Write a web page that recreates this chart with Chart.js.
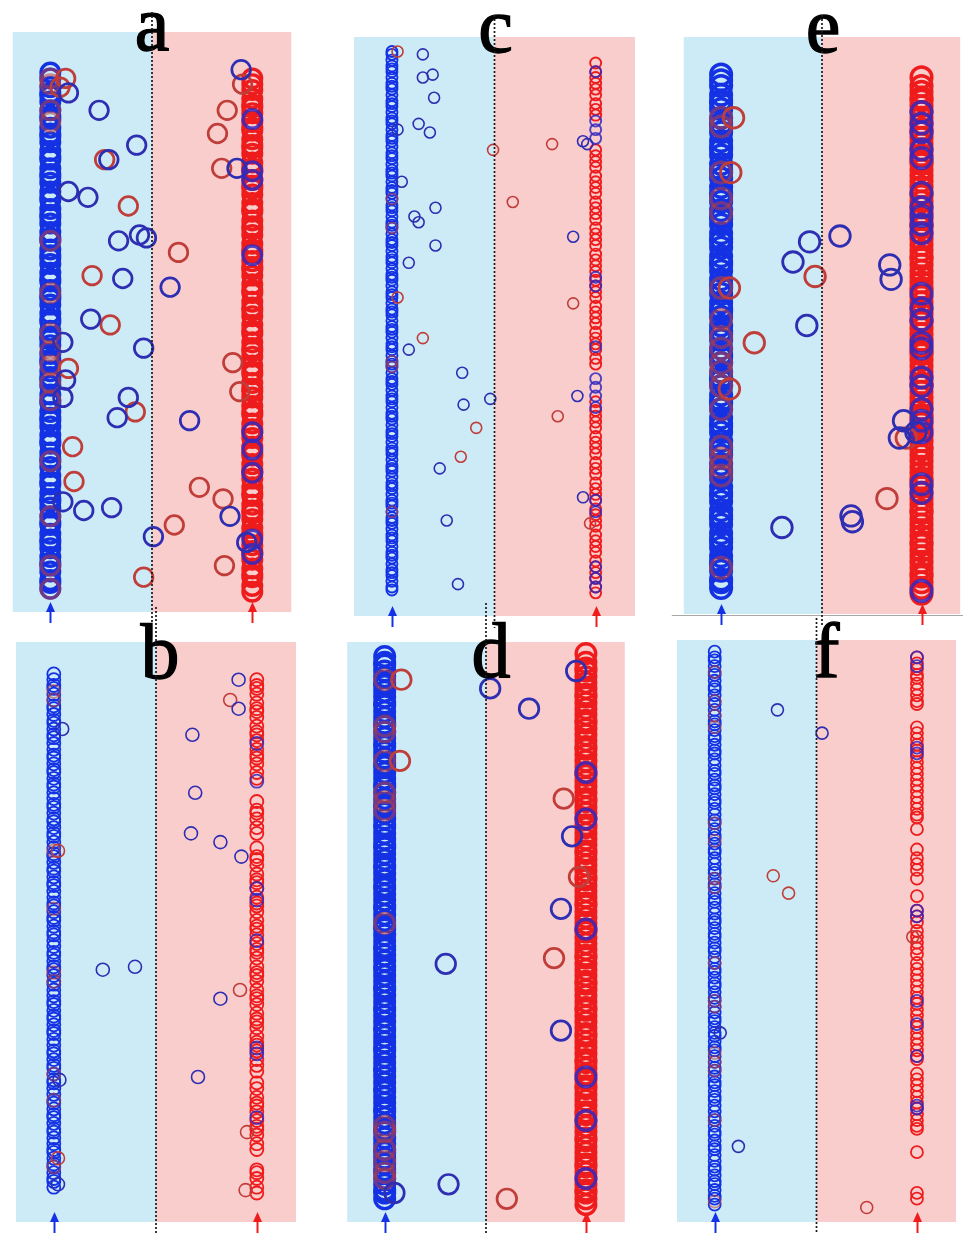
<!DOCTYPE html>
<html>
<head>
<meta charset="utf-8">
<script src="https://cdn.jsdelivr.net/npm/chart.js@4.4.1/dist/chart.umd.min.js"></script>
<style>
  body { margin: 0; background: #fff; width: 963px; height: 1233px; overflow: hidden; position: relative; }
  canvas { position: absolute; }
</style>
</head>
<body>
<script>
// x: 0..2 (dashed divider at 1), y: 0..200 (bottom..top of the coloured box)
const colX = [0.27, 1.72];

// panel a
const aBlueCol = [8,10,11,14,16,17,19,22,24,25,27,30,31,33,36,38,39,41,44,45,47,50,52,53,55,58,59,61,64,66,67,69,72,73,75,78,80,81,83,86,87,89,92,94,95,97,100,101,103,106,108,109,111,114,115,117,120,122,123,125,128,129,131,134,136,137,139,142,143,145,148,150,151,153,156,157,159,162,164,165,167,170,171,173,176,178,179,181,184,186];
const aRedInBlue = [8,16,33,52,73,79,85,90,96,110,128,169,173,182,184];
const aRedCol = [7,9,12,13,15,18,20,21,23,26,27,29,32,34,35,37,40,41,43,46,48,49,51,54,55,57,60,62,63,65,68,69,71,74,76,77,79,82,83,85,88,90,91,93,96,97,99,102,104,105,107,110,111,113,116,118,119,121,124,125,127,130,132,133,135,138,139,141,144,146,147,149,152,153,155,158,160,161,163,166,167,169,172,174,175,177,180,182,184];
const aBlueInRed = [20,25,48,56,62,123,149,152,170];
const aBlueOut = [[0.40,179],[0.62,173],[0.89,161],[0.69,156],[0.40,145],[0.54,143],[0.76,128],[0.91,130],[0.96,129],[1.13,112],[0.79,115],[1.61,153],[1.64,187],[0.56,101],[0.94,91],[0.38,80],[0.83,74],[0.75,67],[1.27,66],[0.51,35],[0.71,36],[1.56,33],[1.01,26],[1.68,24],[0.36,93],[0.36,74],[0.36,38]];
const aRedOut = [[0.38,184],[0.34,181],[0.66,156],[0.83,140],[1.19,124],[0.57,116],[1.54,173],[1.47,165],[1.50,153],[0.70,99],[0.40,84],[0.88,69],[0.43,57],[0.44,45],[1.58,86],[1.63,76],[1.34,43],[1.51,39],[1.16,30],[1.52,16],[0.94,12],[1.65,182]];

// panel b
const bBlueCol = [12,14,15,17,19,20,22,24,25,27,29,31,32,34,36,37,39,41,42,44,46,48,49,51,53,54,56,58,59,61,63,65,66,68,70,71,73,75,76,78,80,82,83,85,87,88,90,92,93,95,97,99,100,102,104,105,107,109,110,112,114,116,117,119,121,122,124,126,127,129,131,133,134,136,138,139,141,143,144,146,148,150,151,153,155,156,158,160,161,163,165,167,168,170,172,173,175,177,178,180,182,184,185,187,189];
const bRedInBlue = [19,42,51,83,86,108,128,180,183];
const bRedCol = [10,12,15,17,18,25,27,30,32,33,35,38,40,41,43,46,48,52,54,56,59,61,62,64,67,69,70,72,75,77,78,80,83,85,86,88,91,93,94,96,99,101,102,104,107,109,110,112,115,117,118,120,123,125,126,129,134,136,139,141,142,145,153,155,158,160,161,163,166,168,169,171,174,176,177,179,182,184,185,187];
const bBlueInRed = [36,58,60,97,111,115,152,165];
const bBlueOut = [[0.62,87],[0.85,88],[1.26,168],[1.28,148],[1.25,134],[1.46,131],[1.61,126],[1.59,187],[1.59,177],[1.46,77],[1.30,50],[0.33,170],[0.31,49],[0.30,13]];
const bRedOut = [[1.53,180],[1.60,80],[1.65,31],[1.64,11],[0.30,128],[0.30,22]];

// panel c
const cBlueCol = [9,10,12,14,15,16,18,20,21,22,24,26,27,28,30,32,33,34,36,38,39,40,42,44,45,46,48,50,51,52,54,56,57,58,60,62,63,64,66,68,69,70,72,74,75,76,78,80,81,82,84,86,87,88,90,92,93,94,96,98,99,100,102,104,105,106,108,110,111,112,114,116,117,118,120,122,123,124,126,128,129,130,132,134,135,136,138,140,141,142,144,146,147,148,150,152,153,154,156,158,159,160,162,164,165,166,168,170,171,172,174,176,177,178,180,182,183,184,186,188,189,190,192,194,195];
const cRedInBlue = [36,86,88,134,144];
const cRedCol = [8,10,13,15,17,19,22,24,26,28,31,33,35,37,40,42,44,46,49,51,53,56,58,60,62,65,67,69,71,74,87,89,92,94,96,98,101,103,105,107,110,112,114,116,119,121,123,125,128,130,132,134,137,139,141,143,146,148,150,152,155,157,159,161,173,175,177,180,182,184,186,188,191];
const cBlueInRed = [10,13,17,36,40,72,76,79,82,93,114,117,165,168,171,188];
const cBlueOut = [[0.49,194],[0.49,186],[0.56,187],[0.57,179],[0.46,170],[0.54,167],[0.31,168],[0.34,150],[0.58,141],[0.43,138],[0.46,136],[0.58,128],[0.39,122],[1.63,164],[1.66,163],[1.56,131],[0.39,92],[0.77,84],[0.97,75],[0.78,73],[0.61,51],[0.66,33],[0.74,11],[1.59,76],[1.63,41]];
const cRedOut = [[0.99,161],[1.41,163],[1.13,143],[1.56,108],[0.31,110],[0.49,96],[0.87,65],[0.76,55],[1.45,69],[1.68,32],[0.31,195]];

// panel d
const dBlueCol = [8,10,11,13,15,17,18,20,22,24,25,27,29,31,32,34,36,38,39,41,43,45,46,48,50,52,53,55,57,59,60,62,64,66,67,69,71,73,74,76,78,80,81,83,85,87,88,90,92,94,95,97,99,101,102,104,106,108,109,111,113,115,116,118,120,122,123,125,127,129,130,132,134,136,137,139,141,143,144,146,148,150,151,153,155,157,158,160,162,164,165,167,169,171,172,174,176,178,179,181,183,185,186,188,190,192,193,195];
const dRedInBlue = [15,17,21,25,31,33,103,142,145,148,159,169,171,187];
const dRedCol = [6,8,10,11,13,15,17,19,20,22,24,26,28,29,31,33,35,37,38,40,42,44,46,47,49,51,53,55,56,58,60,62,64,65,67,69,71,73,74,76,78,80,82,83,85,87,89,91,92,94,96,98,100,101,103,105,107,109,110,112,114,116,118,119,121,123,125,127,128,130,132,134,136,137,139,141,143,145,146,148,150,152,154,155,157,159,161,163,164,166,168,170,172,173,175,177,179,181,182,184,186,188,190,191,193,196];
const dBlueInRed = [15,35,50,101,139,155];
const dBlueOut = [[1.03,184],[1.31,177],[1.65,190],[1.62,133],[1.54,108],[0.71,89],[0.73,13],[1.54,66],[0.34,10]];
const dRedOut = [[1.56,146],[1.67,119],[1.49,91],[1.15,8],[0.39,187],[0.38,159]];

// panel e
const eBlueCol = [9,11,12,15,17,18,20,23,25,26,28,31,33,34,36,39,41,42,44,47,49,50,52,55,57,58,60,63,65,66,68,71,73,74,76,79,81,82,84,87,89,90,92,95,97,98,100,103,105,106,108,111,113,114,116,119,121,122,124,127,129,130,132,135,137,138,140,143,145,146,148,151,153,154,156,159,161,162,164,167,169,170,172,175,177,178,180,183,185,187];
const eRedInBlue = [16,48,51,54,58,71,79,84,87,92,96,102,113,139,144,153,169,172];
const eRedCol = [7,9,11,13,14,16,18,20,22,24,25,27,29,31,33,35,36,38,40,42,44,46,47,49,51,53,55,57,58,60,62,64,66,68,69,71,73,75,77,79,80,82,84,86,88,90,91,93,95,97,99,101,102,104,106,108,110,112,113,115,117,119,121,123,124,126,128,130,132,134,135,137,139,141,143,145,146,148,150,152,154,156,157,159,161,163,165,167,168,170,172,174,176,178,179,181,183,186];
const eBlueInRed = [8,42,45,63,67,71,79,82,92,94,102,106,111,132,135,138,141,146,158,161,167,170,174];
const eBlueOut = [[0.91,129],[1.13,131],[0.79,122],[1.49,121],[1.50,116],[0.89,100],[0.71,30],[1.21,34],[1.22,32],[1.59,67],[1.56,61],[1.68,63]];
const eRedOut = [[0.95,117],[0.51,94],[1.47,40],[1.61,61],[0.36,172],[0.34,153],[0.33,113],[0.33,78]];

// panel f
const fBlueCol = [6,8,9,11,13,14,16,18,19,21,23,25,26,28,30,31,33,35,36,38,40,42,43,45,47,48,50,52,53,55,57,59,60,62,64,65,67,69,70,72,74,76,77,79,81,82,84,86,87,89,91,93,94,96,98,99,101,103,104,106,108,110,111,113,115,116,118,120,121,123,125,127,128,130,132,133,135,137,138,140,142,144,145,147,149,150,152,154,155,157,159,161,162,164,166,167,169,171,172,174,176,178,179,181,183,184,186,188,189,191,193,194,196];
const fRedInBlue = [7,35,52,55,58,74,76,89,115,118,131,137,170,174,179,189];
const fRedCol = [8,10,24,32,33,35,37,39,41,43,45,47,49,51,56,57,59,61,63,65,67,69,71,73,75,77,79,81,83,85,87,89,92,94,96,98,100,103,105,107,112,118,121,123,125,128,135,139,140,142,144,146,148,150,152,154,156,158,160,162,164,166,168,170,178,179,181,183,185,187,188,190,192,194];
const fBlueInRed = [39,40,57,68,76,105,107,161,163,191,194];
const fBlueOut = [[0.72,176],[1.04,168],[0.44,26],[0.31,65]];
const fRedOut = [[0.69,119],[0.80,113],[1.36,5],[1.69,98]];

const bgBlue = '#cdebf6';
const bgPink = '#facdcd';
const blue = '#1432e4';
const red = '#ee1c1c';
const blueDim = '#2e2eb2';
const redDim = '#c03e3a';
const redInCol = 'rgba(185,60,60,0.55)';
const blueInCol = 'rgba(52,40,190,0.85)';

const panels = [
  { label: 'a', left: 12,  top: 32,  width: 280, height: 580, r: 9.3,  bw: 3.4, letterDx: 0,  letterDy: 18, dashUp: 20,
    blueCol: aBlueCol, redInBlue: aRedInBlue, redCol: aRedCol, blueInRed: aBlueInRed, blueOut: aBlueOut, redOut: aRedOut },
  { label: 'c', left: 354, top: 37,  width: 281, height: 579, r: 5.5,  bw: 1.9, letterDx: 1,  letterDy: 15, dashUp: 22,
    blueCol: cBlueCol, redInBlue: cRedInBlue, redCol: cRedCol, blueInRed: cBlueInRed, blueOut: cBlueOut, redOut: cRedOut },
  { label: 'e', left: 682, top: 37,  width: 280, height: 577, r: 10.3, bw: 3.5, letterDx: 1,  letterDy: 15, dashUp: 22, baseLine: true,
    blueCol: eBlueCol, redInBlue: eRedInBlue, redCol: eRedCol, blueInRed: eBlueInRed, blueOut: eBlueOut, redOut: eRedOut },
  { label: 'b', left: 16,  top: 642, width: 280, height: 580, r: 6.5,  bw: 1.8, letterDx: 4,  letterDy: 36, dashUp: 35,
    blueCol: bBlueCol, redInBlue: bRedInBlue, redCol: bRedCol, blueInRed: bBlueInRed, blueOut: bBlueOut, redOut: bRedOut },
  { label: 'd', left: 346, top: 642, width: 280, height: 580, r: 9.8,  bw: 3.4, letterDx: 5,  letterDy: 35, dashUp: 39,
    blueCol: dBlueCol, redInBlue: dRedInBlue, redCol: dRedCol, blueInRed: dBlueInRed, blueOut: dBlueOut, redOut: dRedOut },
  { label: 'f', left: 677, top: 640, width: 279, height: 582, r: 6,    bw: 1.8, letterDx: 10, letterDy: 37, dashUp: 22,
    blueCol: fBlueCol, redInBlue: fRedInBlue, redCol: fRedCol, blueInRed: fBlueInRed, blueOut: fBlueOut, redOut: fRedOut }
];

const PAD = { left: 12, right: 12, top: 50, bottom: 14 };

// coloured halves, divider, arrows and the panel letter
const panelDecor = {
  id: 'panelDecor',
  beforeDatasetsDraw(chart, args, o) {
    const { ctx, chartArea: a, scales: { x } } = chart;
    const mid = x.getPixelForValue(1);
    ctx.save();
    ctx.fillStyle = bgBlue;
    ctx.fillRect(a.left, a.top, mid - a.left, a.bottom - a.top);
    ctx.fillStyle = bgPink;
    ctx.fillRect(mid, a.top, a.right - mid, a.bottom - a.top);
    if (o.baseLine) {
      ctx.strokeStyle = '#a8a8a8';
      ctx.lineWidth = 1;
      ctx.beginPath();
      ctx.moveTo(a.left - 12, a.bottom + 1.5);
      ctx.lineTo(a.right + 12, a.bottom + 1.5);
      ctx.stroke();
    }
    ctx.restore();
  },
  afterDatasetsDraw(chart, args, o) {
    const { ctx, chartArea: a, scales: { x } } = chart;
    const mid = x.getPixelForValue(1);
    ctx.save();
    ctx.fillStyle = '#000';
    ctx.strokeStyle = '#000';
    ctx.lineWidth = 1.3;
    ctx.font = '78px "Liberation Serif", "DejaVu Serif", serif';
    ctx.textAlign = 'center';
    ctx.textBaseline = 'alphabetic';
    ctx.fillText(o.label, mid + o.letterDx, a.top + o.letterDy);
    ctx.strokeText(o.label, mid + o.letterDx, a.top + o.letterDy);

    ctx.strokeStyle = '#1a1a1a';
    ctx.lineWidth = 1.7;
    ctx.setLineDash([2, 2]);
    ctx.beginPath();
    ctx.moveTo(mid, a.top - o.dashUp);
    ctx.lineTo(mid, a.bottom + 12);
    ctx.stroke();
    ctx.setLineDash([]);

    [[colX[0], blue], [colX[1], red]].forEach(([v, c]) => {
      const px = Math.round(x.getPixelForValue(v)) + 0.5;
      const tip = a.bottom - 10;
      ctx.strokeStyle = c;
      ctx.fillStyle = c;
      ctx.lineWidth = 2;
      ctx.beginPath();
      ctx.moveTo(px, a.bottom + 11);
      ctx.lineTo(px, tip + 6);
      ctx.stroke();
      ctx.beginPath();
      ctx.moveTo(px, tip);
      ctx.lineTo(px - 4.5, tip + 10);
      ctx.lineTo(px + 4.5, tip + 10);
      ctx.closePath();
      ctx.fill();
    });
    ctx.restore();
  }
};

function colPts(ys, xv) { return ys.map(y => ({ x: xv, y })); }
function outPts(list) { return list.map(p => ({ x: p[0], y: p[1] })); }

function ds(data, color, p, bw) {
  return {
    data,
    pointRadius: p.r,
    pointHoverRadius: p.r,
    pointBorderWidth: bw || p.bw,
    pointBorderColor: color,
    pointBackgroundColor: 'rgba(0,0,0,0)',
    borderColor: color,
    backgroundColor: 'rgba(0,0,0,0)',
    clip: false
  };
}

panels.forEach(p => {
  const cv = document.createElement('canvas');
  const w = p.width + PAD.left + PAD.right;
  const h = p.height + PAD.top + PAD.bottom;
  cv.width = w;
  cv.height = h;
  cv.style.width = w + 'px';
  cv.style.height = h + 'px';
  cv.style.left = (p.left - PAD.left) + 'px';
  cv.style.top = (p.top - PAD.top) + 'px';
  document.body.appendChild(cv);

  // lone circles keep a thinner outline than the packed columns
  const thin = Math.max(1.6, p.bw * 0.8);

  // first dataset is drawn on top
  new Chart(cv, {
    type: 'scatter',
    data: {
      datasets: [
        ds(outPts(p.blueOut), blueDim, p, thin),
        ds(outPts(p.redOut), redDim, p, thin),
        ds(colPts(p.redInBlue, colX[0]), redInCol, p),
        ds(colPts(p.blueInRed, colX[1]), blueInCol, p),
        ds(colPts(p.blueCol, colX[0]), blue, p),
        ds(colPts(p.redCol, colX[1]), red, p)
      ]
    },
    options: {
      responsive: false,
      animation: false,
      events: [],
      layout: { padding: PAD },
      scales: {
        x: { type: 'linear', min: 0, max: 2, display: false },
        y: { type: 'linear', min: 0, max: 200, display: false }
      },
      plugins: {
        legend: { display: false },
        tooltip: { enabled: false },
        panelDecor: { label: p.label, letterDx: p.letterDx, letterDy: p.letterDy, dashUp: p.dashUp, baseLine: !!p.baseLine }
      }
    },
    plugins: [panelDecor]
  });
});
</script>
</body>
</html>
